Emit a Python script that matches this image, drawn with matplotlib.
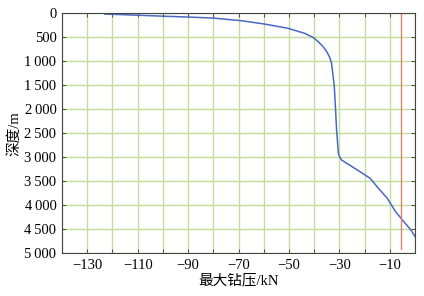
import matplotlib
matplotlib.use("Agg")
import matplotlib.pyplot as plt

# Data (max weight-on-bit vs. depth)
force_kN = [-123, -110, -100, -89, -80.0, -69.0, -59.8, -50.4, -43.8, -40.5, -38.4,
            -36.5, -35.0, -33.8, -33.1, -32.6, -32.0, -31.5, -31.1, -30.7, -30.4,
            -29.8, -29.1, -27.1, -24.5, -21.8, -17.8, -14.5, -11.0, -7.7, -5.0,
            -1.6, 0.0]
depth_m = [15, 40, 60, 80, 100, 153, 223, 312, 417, 500, 591,
           690, 800, 920, 1042, 1250, 1530, 2015, 2431, 2700, 2917,
           3000, 3056, 3125, 3210, 3300, 3438, 3646, 3854, 4133, 4306,
           4515, 4650]

limit_force = -5.5
limit_depth = [0, 4900]

x_ticks = list(range(-140, 1, 10))
x_labels = ["", "−130", "", "−110", "", "−90", "", "−70", "", "−50", "", "−30", "", "−10", ""]
y_ticks = [0, 500, 1000, 1500, 2000, 2500, 3000, 3500, 4000, 4500, 5000]
y_labels = ["0", "500", "1\u2009000", "1\u2009500", "2\u2009000", "2\u2009500", "3\u2009000",
            "3\u2009500", "4\u2009000", "4\u2009500", "5\u2009000"]

fam = ["Liberation Serif", "Noto Sans CJK SC", "DejaVu Sans"]
plt.rcParams["font.family"] = fam

fig = plt.figure(figsize=(4.24, 2.96), dpi=100)
ax = fig.add_axes([62/424, 1-253.3/296, (415-62)/424, (253.3-13.3)/296])

ax.plot(force_kN, depth_m, color="#4a68c0", lw=1.1)
ax.plot([limit_force, limit_force], limit_depth, color="#e8806c", lw=1.0)

ax.set_xlim(-140, 0)
ax.set_ylim(5000, 0)
ax.set_xticks(x_ticks)
ax.set_xticklabels(x_labels, fontsize=10.5)
ax.set_yticks(y_ticks)
ax.set_yticklabels(y_labels, fontsize=10.5)
ax.grid(True, color="#c2de9e", lw=1.0)
ax.set_axisbelow(True)
ax.tick_params(direction="in", top=True, right=True, length=3, width=0.6, color="#333333", pad=4)
for s in ax.spines.values():
    s.set_color("#444444")
    s.set_linewidth(0.8)

ax.set_xlabel("最大钻压/kN", fontsize=10.5, labelpad=1)
ax.set_ylabel("深度/m", fontsize=10.5, labelpad=2)

fig.savefig("out.png", dpi=100)
